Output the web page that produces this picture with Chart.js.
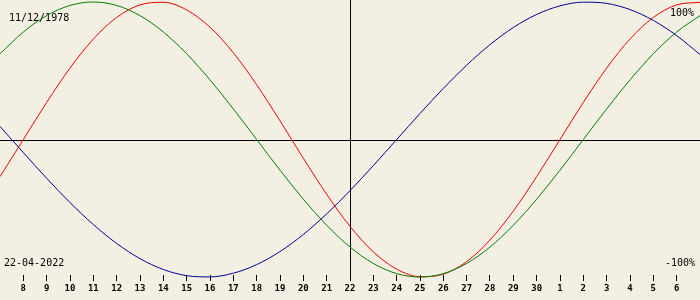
<!DOCTYPE html>
<html>
<head>
<meta charset="utf-8">
<script src="https://cdn.jsdelivr.net/npm/chart.js@4/dist/chart.umd.min.js"></script>
<style>
  body { margin: 0; background: #f3efe3; }
  #cntr { width: 700px; height: 300px; }
</style>
</head>
<body>
<div id="cntr"><canvas id="myChart" width="700" height="300"></canvas></div>
<script>
// Datos
const dias = ['7', '8', '9', '10', '11', '12', '13', '14', '15', '16', '17', '18', '19', '20',
  '21', '22', '23', '24', '25', '26', '27', '28', '29', '30', '1', '2', '3', '4', '5', '6', '7'];
// Ciclo fisico (23 dias)
const fisico = [-0.2698, 0, 0.2698, 0.5196, 0.7308, 0.8879, 0.9791, 0.9977, 0.9423, 0.8170,
  0.6311, 0.3984, 0.1362, -0.1362, -0.3984, -0.6311, -0.8170, -0.9423, -0.9977, -0.9791,
  -0.8879, -0.7308, -0.5196, -0.2698, 0, 0.2698, 0.5196, 0.7308, 0.8879, 0.9791, 0.9977];
// Ciclo emocional (28 dias)
const emocional = [0.6235, 0.7818, 0.9010, 0.9749, 1, 0.9749, 0.9010, 0.7818, 0.6235, 0.4339,
  0.2225, 0, -0.2225, -0.4339, -0.6235, -0.7818, -0.9010, -0.9749, -1, -0.9749,
  -0.9010, -0.7818, -0.6235, -0.4339, -0.2225, 0, 0.2225, 0.4339, 0.6235, 0.7818, 0.9010];
// Ciclo intelectual (33 dias)
const intelectual = [0.0951, -0.0951, -0.2817, -0.4582, -0.6182, -0.7557, -0.8660, -0.9450, -0.9898, -0.9989,
  -0.9718, -0.9096, -0.8146, -0.6901, -0.5406, -0.3717, -0.1893, 0, 0.1893, 0.3717,
  0.5406, 0.6901, 0.8146, 0.9096, 0.9718, 0.9989, 0.9898, 0.9450, 0.8660, 0.7557, 0.6182];
// Textos
const nacimiento = '11/12/1978';
const fecha = '22-04-2022';
const hoy = '22';
const maximo = '100%';
const minimo = '-100%';

/**
 * * Plugin para dibujar los ejes centrales y los textos
 */
const marcos = {
  id: 'marcos',
  beforeDatasetsDraw(chart) {
    const { ctx, chartArea, scales } = chart;
    const x = Math.round(scales.x.getPixelForValue(dias.indexOf(hoy))) + 0.5;
    const y = Math.round(scales.y.getPixelForValue(0)) + 0.5;

    ctx.save();
    ctx.strokeStyle = '#000';
    ctx.lineWidth = 1;
    ctx.beginPath();
    ctx.moveTo(chartArea.left, y);
    ctx.lineTo(chartArea.right, y);
    ctx.moveTo(x, chartArea.top);
    ctx.lineTo(x, chartArea.bottom + 5);
    ctx.stroke();

    ctx.fillStyle = '#000';
    ctx.font = '10px "DejaVu Sans Mono"';
    ctx.textAlign = 'left';
    ctx.fillText(nacimiento, 9, 21);
    ctx.fillText(fecha, 4, 266);
    ctx.textAlign = 'right';
    ctx.fillText(maximo, 694, 16);
    ctx.fillText(minimo, 695, 266);
    ctx.restore();
  }
};

function serie(datos, color) {
  return {
    data: datos,
    borderColor: color,
    borderWidth: 1,
    pointRadius: 0,
    fill: false,
    clip: false,
    cubicInterpolationMode: 'monotone'
  };
}

const ctx = document.getElementById('myChart');
new Chart(ctx, {
  type: 'line',
  data: {
    labels: dias,
    datasets: [
      serie(intelectual, '#000096'),
      serie(emocional, '#008000'),
      serie(fisico, '#f00000')
    ]
  },
  options: {
    responsive: false,
    animation: false,
    devicePixelRatio: 1,
    layout: { padding: 0 },
    plugins: {
      legend: { display: false },
      tooltip: { enabled: false }
    },
    scales: {
      x: {
        type: 'category',
        offset: false,
        grid: {
          display: true,
          drawOnChartArea: false,
          drawTicks: true,
          tickLength: 6,
          color: '#000',
          lineWidth: 1
        },
        border: { display: false },
        ticks: {
          autoSkip: false,
          maxRotation: 0,
          padding: 2,
          color: '#000',
          font: { family: 'DejaVu Sans Mono', size: 9, weight: 'bold' },
          callback: (v) => dias[v]
        },
        afterBuildTicks: (s) => {
          s.ticks = s.ticks.filter(t => t.value > 0 && t.value < dias.length - 1);
        },
        afterFit: (s) => {
          s.height = 25;
          s.paddingLeft = 0;
          s.paddingRight = 0;
        }
      },
      y: {
        display: false,
        min: -0.985,
        max: 1.0145
      }
    }
  },
  plugins: [marcos]
});
</script>
</body>
</html>
